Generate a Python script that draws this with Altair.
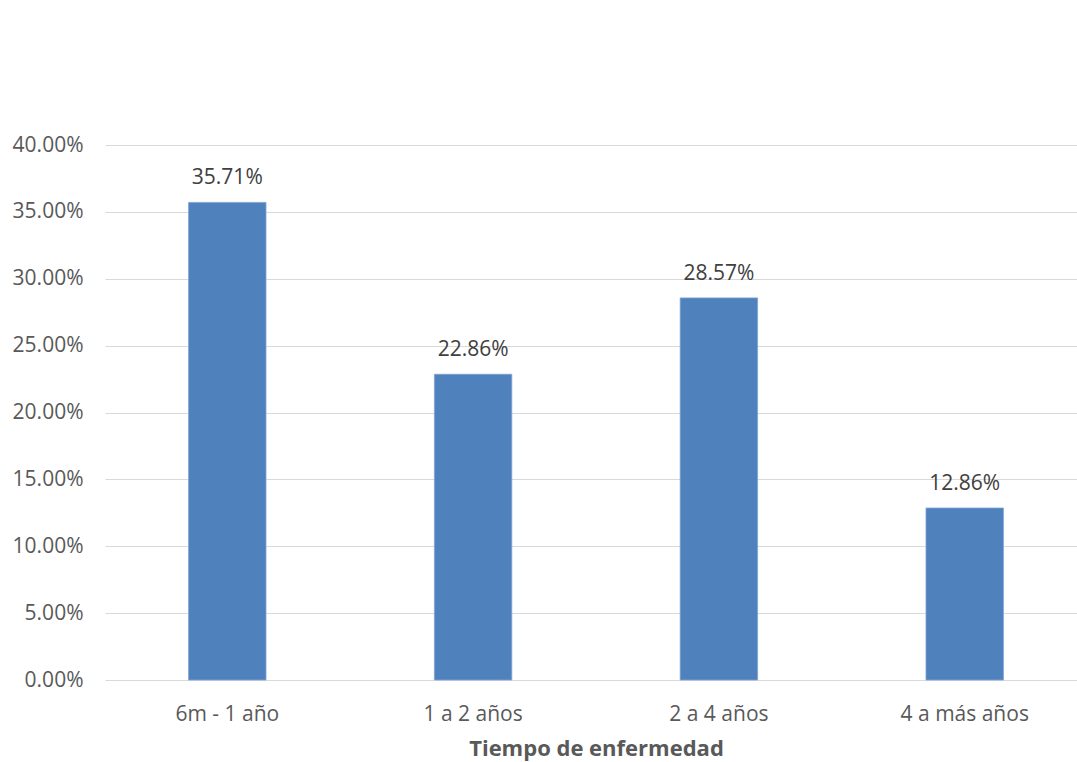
import altair as alt
import pandas as pd

categories = ["6m - 1 año", "1 a 2 años", "2 a 4 años", "4 a más años"]
values = [0.3571, 0.2286, 0.2857, 0.1286]
y_ticks = [0, 0.05, 0.10, 0.15, 0.20, 0.25, 0.30, 0.35, 0.40]

df = pd.DataFrame({"cat": categories, "val": values})

FONT = "Open Sans"

base = alt.Chart(df).encode(
    x=alt.X("cat:N", sort=categories, title="Tiempo de enfermedad",
            scale=alt.Scale(paddingInner=0.685, paddingOuter=0.34),
            axis=alt.Axis(labelAngle=0, ticks=False, domain=False, labelPadding=23,
                          labelFontSize=21, labelColor="#595959", labelFont=FONT,
                          titleFont=FONT, titleFontSize=22, titleFontWeight="bold",
                          titleColor="#595959", titlePadding=14)),
    y=alt.Y("val:Q", title=None,
            scale=alt.Scale(domain=[0, 0.40], nice=False),
            axis=alt.Axis(values=y_ticks, format=".2%", ticks=False, domain=False,
                          labelPadding=22, labelFontSize=21, labelColor="#595959",
                          labelFont=FONT, gridColor="#d9d9d9", gridWidth=1.2)),
)

bars = base.mark_bar(color="#4f81bd", stroke="#7fa3d4", strokeWidth=0.8)
labels = base.mark_text(dy=-24, fontSize=21, color="#404040", font=FONT).encode(
    text=alt.Text("val:Q", format=".2%"))

chart = (bars + labels).properties(
    width=982, height=535,
    autosize=alt.AutoSizeParams(type="none"),
    padding={"left": 105, "top": 145, "right": -10, "bottom": 82},
    background="white",
).configure_view(stroke=None)

chart.save("out.html", embed_options={"renderer": "svg", "actions": False})
